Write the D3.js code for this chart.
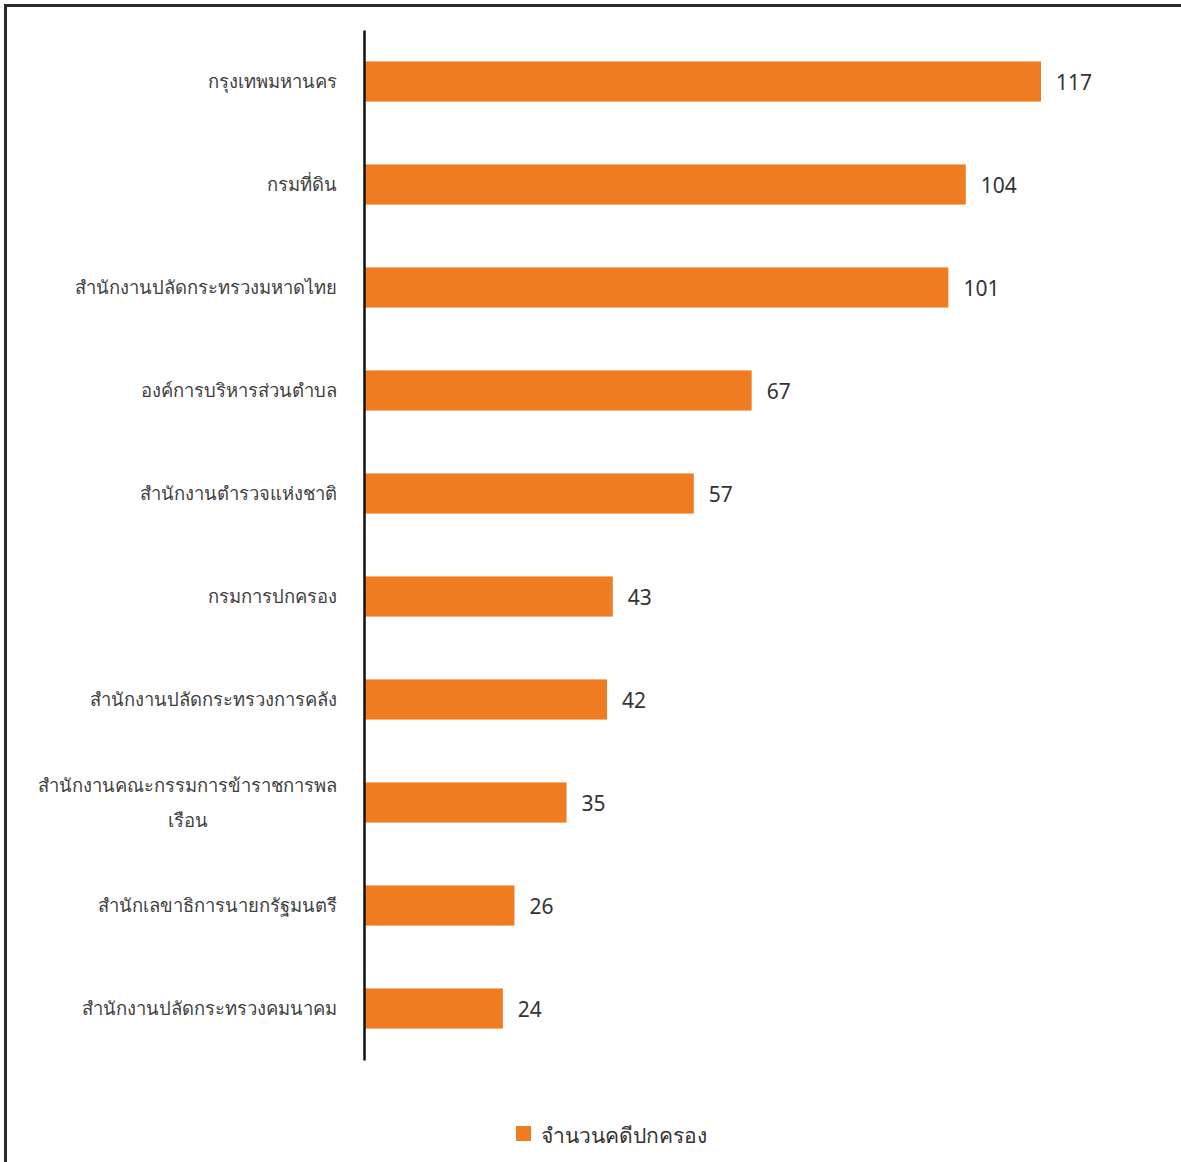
<!DOCTYPE html>
<html><head><meta charset="utf-8">
<script src="https://cdn.jsdelivr.net/npm/d3@7"></script>
<style>
body{margin:0;background:#fff;}
svg{display:block;font-family:"Noto Sans","DejaVu Sans",sans-serif;}
</style></head>
<body>
<svg id="c" width="1181" height="1162"></svg>
<script>
const categories = [
  "กรุงเทพมหานคร",
  "กรมที่ดิน",
  "สำนักงานปลัดกระทรวงมหาดไทย",
  "องค์การบริหารส่วนตำบล",
  "สำนักงานตำรวจแห่งชาติ",
  "กรมการปกครอง",
  "สำนักงานปลัดกระทรวงการคลัง",
  "สำนักงานคณะกรรมการข้าราชการพล\nเรือน",
  "สำนักเลขาธิการนายกรัฐมนตรี",
  "สำนักงานปลัดกระทรวงคมนาคม"
];
const values = [117, 104, 101, 67, 57, 43, 42, 35, 26, 24];
const seriesName = "จำนวนคดีปกครอง";

const color = "#F07C22";
const svg = d3.select("#c");

// frame
svg.append("path").attr("d","M5.5,1162 L5.5,5.5 L1181,5.5")
  .attr("fill","none").attr("stroke","#2b2b2b").attr("stroke-width",3);

const x0 = 364;
const x = d3.scaleLinear().domain([0, 117]).range([x0, 1041]);
const y = d3.scaleBand().domain(categories).range([30, 1060]).paddingInner(0.61).paddingOuter(0.305);

svg.selectAll("rect.bar").data(values).join("rect")
  .attr("class","bar")
  .attr("x", x(0))
  .attr("y", (d,i)=>y(categories[i]))
  .attr("width", d=>x(d)-x(0))
  .attr("height", y.bandwidth())
  .attr("fill", color);

// value labels
svg.selectAll("text.val").data(values).join("text")
  .attr("class","val")
  .attr("x", d=>x(d)+15)
  .attr("y", (d,i)=>y(categories[i])+y.bandwidth()/2+1)
  .attr("dy","0.36em")
  .attr("font-size",21)
  .attr("fill","#333")
  .text(d=>d);

// axis line
const axis = d3.axisLeft(y).tickSize(0).tickFormat("");
const ag = svg.append("g").attr("transform",`translate(${x0},0)`).call(axis);
ag.select(".domain").attr("stroke","#111").attr("stroke-width",2.5);

// category labels
const lab = svg.append("g");
categories.forEach((c,i)=>{
  const lines = c.split("\n");
  const cy = y(c)+y.bandwidth()/2;
  const lh = 35;
  const g = lab.append("g");
  const ts = lines.map((ln,j)=> g.append("text")
      .attr("y", cy + (j-(lines.length-1)/2)*lh)
      .attr("dy","0.36em")
      .attr("font-size",18.4)
      .attr("fill","#404040")
      .text(ln));
  const maxW = d3.max(ts, t=>t.node().getComputedTextLength());
  ts.forEach(t=>t.attr("text-anchor","middle").attr("x", 337 - maxW/2));
});

// legend
svg.append("rect").attr("x",516).attr("y",1126).attr("width",15).attr("height",15).attr("fill",color);
svg.append("text").attr("x",541).attr("y",1135).attr("dy","0.36em")
  .attr("font-size",21).attr("fill","#333").text(seriesName);
</script>
</body></html>
